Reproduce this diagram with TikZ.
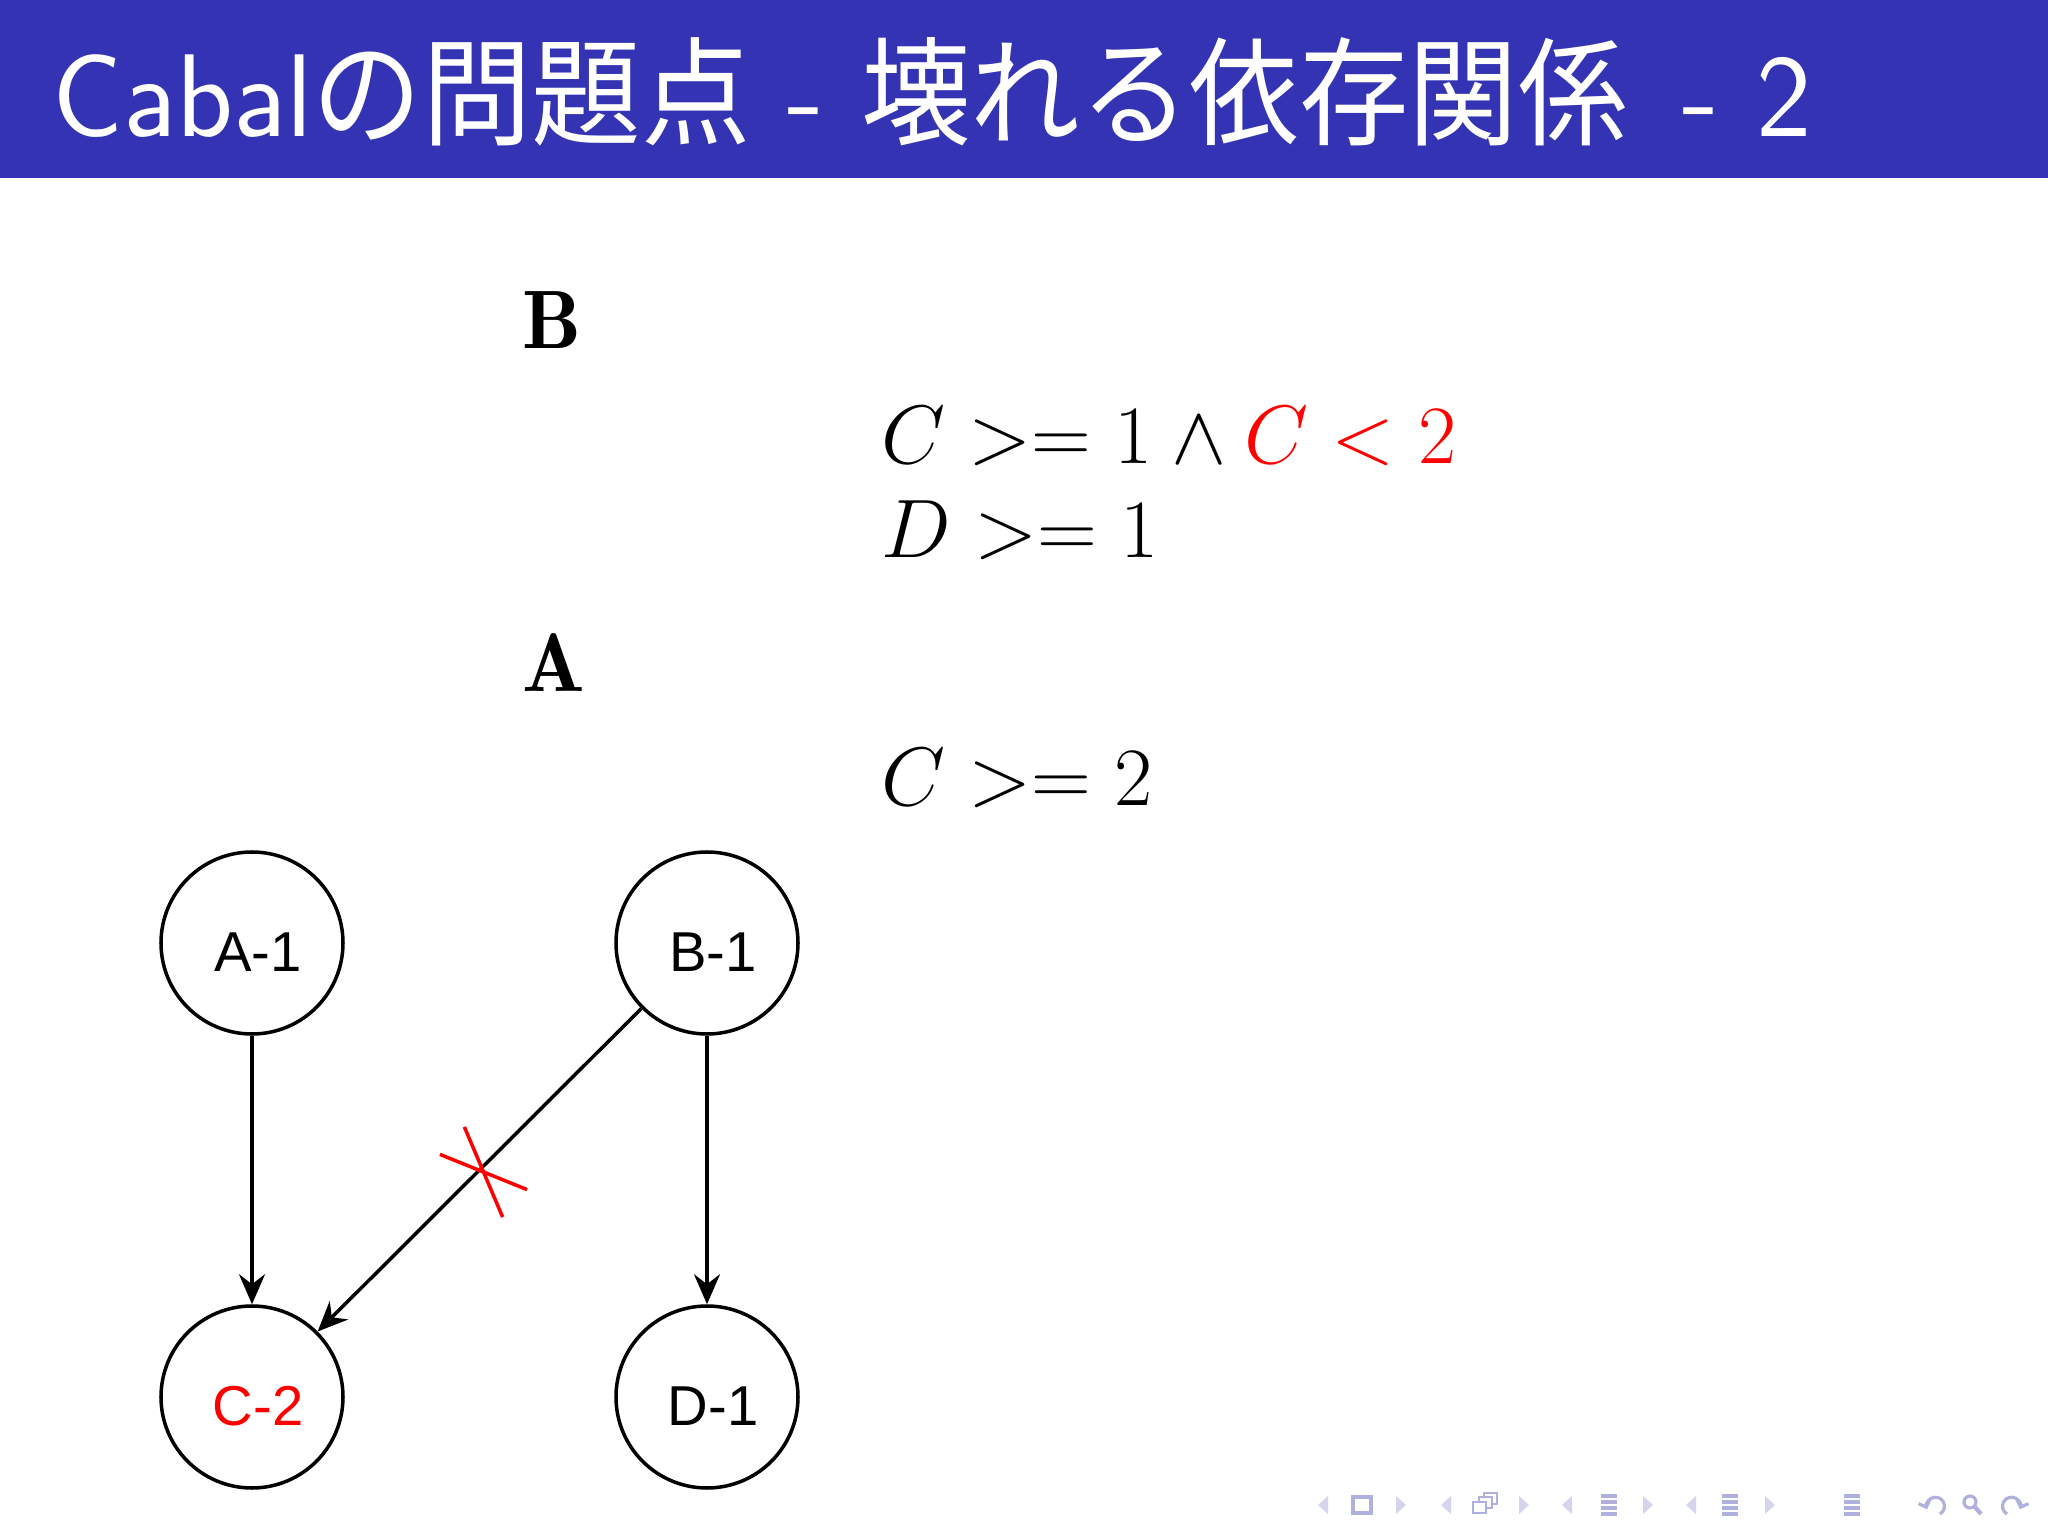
\RequirePackage{fix-cm}
\documentclass[tikz,border=0pt]{standalone}
\usepackage{fontspec}
\newfontfamily\jpfont[FakeStretch=0.93]{Noto Sans CJK JP}
\newfontfamily\graphfont{Liberation Sans}
\usetikzlibrary{arrows.meta,calc}
\definecolor{titleblue}{RGB}{51,51,179}
\definecolor{navcol}{RGB}{176,176,222}
\definecolor{navlight}{RGB}{212,212,236}
\tikzset{
  pkg/.style={circle,draw,line width=1pt,minimum size=1.82cm,inner sep=0pt,
    font=\graphfont\fontsize{16}{18}\selectfont,text height=0.57cm,text depth=0pt,
    execute at begin node={\hspace{0.12cm}}},
  dep/.style={line width=1pt,-{Stealth[length=3mm,width=2.6mm,inset=1mm]}},
  body/.style={anchor=base west,inner sep=0pt,font=\fontsize{23.6}{30}\selectfont}
}
\begin{document}
\begin{tikzpicture}
\useasboundingbox (0,0) rectangle (20.48,-15.36);
\fill[white] (0,0) rectangle (20.48,-15.36);
% frame title
\fill[titleblue] (0,0) rectangle (20.48,-1.78);
\node[anchor=base west,inner sep=0pt,text=white,font=\sffamily\fontsize{33.5}{40}\selectfont]
  (title) at (0.52,-1.37) {Cabal{\jpfont の問題点} - {\jpfont 壊れる依存関係}\hspace{0.15em} - 2};
% constraints
\node[body] (lblB) at (5.22,-3.49) {$\mathbf{B}$};
\node[body] (consB1) at (8.81,-4.64) {$C >= 1 \wedge \textcolor{red}{C < 2}$};
\node[body] (consB2) at (8.81,-5.58) {$D >= 1$};
\node[body] (lblA) at (5.22,-6.92) {$\mathbf{A}$};
\node[body] (consA) at (8.81,-8.06) {$C >= 2$};
% dependency graph
\node[pkg] (a1) at (2.52,-9.43) {A-1};
\node[pkg] (b1) at (7.07,-9.43) {B-1};
\node[pkg,text=red] (c2) at (2.52,-13.97) {C-2};
\node[pkg] (d1) at (7.07,-13.97) {D-1};
\draw[dep] (a1) -- (c2);
\draw[dep] (b1) -- (c2);
\draw[dep] (b1) -- (d1);
% broken edge
\coordinate (cut) at ($(b1)!0.5!(c2)$);
\draw[red,line width=1pt] ($(cut)+(0.04,-0.02)$) +(158:0.47) -- +(-22:0.47);
\draw[red,line width=1pt] ($(cut)+(0.04,-0.02)$) +(113:0.49) -- +(-67:0.49);
% navigation symbols
\foreach \x in {13.28,14.51,15.72,16.96}
  \fill[navlight] (\x,-14.96) -- (\x-0.1,-15.05) -- (\x,-15.14) -- cycle;
\foreach \x in {13.96,15.19,16.43,17.65}
  \fill[navlight] (\x,-14.96) -- (\x+0.1,-15.05) -- (\x,-15.14) -- cycle;
\draw[navcol,line width=0.9pt] (13.53,-14.97) rectangle (13.71,-15.13);
\draw[navcol,line width=0.7pt,fill=white] (14.84,-14.93) rectangle (14.97,-15.04);
\draw[navcol,line width=0.7pt,fill=white] (14.79,-14.97) rectangle (14.92,-15.08);
\draw[navcol,line width=0.7pt,fill=white] (14.73,-15.02) rectangle (14.86,-15.13);
\foreach \x in {16.09,17.30,18.52} {
  \foreach \y in {-14.96,-15.02,-15.08,-15.14}
    \draw[navcol,line width=1.4pt] (\x-0.08,\y) -- (\x+0.08,\y);
}
\draw[navcol,line width=0.9pt,-{Straight Barb[length=0.6mm]}] (19.40,-15.14) arc (-60:200:0.09);
\draw[navcol,line width=0.9pt] (19.70,-15.02) circle (0.06);
\draw[navcol,line width=1.2pt] (19.74,-15.06) -- (19.81,-15.14);
\draw[navcol,line width=0.9pt,-{Straight Barb[length=0.6mm]}] (20.07,-15.14) arc (240:-20:0.09);
\end{tikzpicture}
\end{document}
